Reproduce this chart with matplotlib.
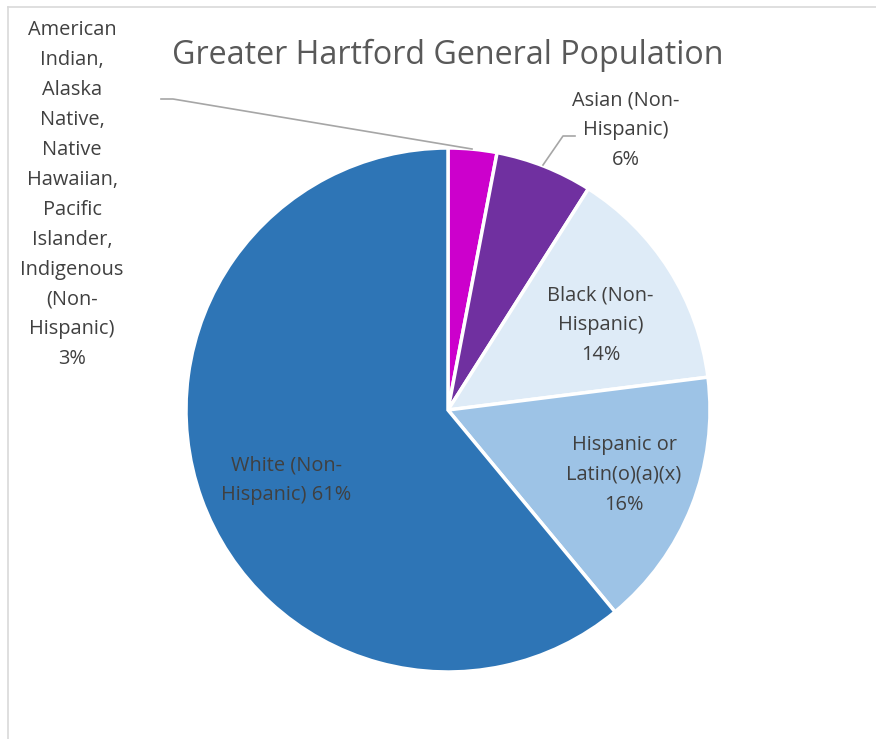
import matplotlib.pyplot as plt
from matplotlib.lines import Line2D

# chart data
categories = [
    "American\nIndian,\nAlaska\nNative,\nNative\nHawaiian,\nPacific\nIslander,\nIndigenous\n(Non-\nHispanic)",
    "Asian (Non-\nHispanic)",
    "Black (Non-\nHispanic)",
    "Hispanic or\nLatin(o)(a)(x)",
    "White (Non-\nHispanic)",
]
shares = [3, 6, 14, 16, 61]
colors = ["#CC00CC", "#7030A0", "#DEEBF7", "#9DC3E6", "#2E75B6"]

plt.rcParams["font.family"] = ["Open Sans", "DejaVu Sans"]

W, H = 876, 739
fig = plt.figure(figsize=(W / 100, H / 100), dpi=100)

# light frame around the chart area
fig.add_artist(Line2D([8 / W, 8 / W], [0, 1 - 7 / H], color="#D9D9D9", lw=1.2))
fig.add_artist(Line2D([8 / W, 1], [1 - 7 / H, 1 - 7 / H], color="#D9D9D9", lw=1.2))

cx, cy, r = 448, 410, 262
ax = fig.add_axes([(cx - r) / W, (H - cy - r) / H, 2 * r / W, 2 * r / H])
ax.pie(shares, colors=colors, startangle=90, counterclock=False, radius=1,
       wedgeprops=dict(edgecolor="white", linewidth=2.5))
ax.set_xlim(-1, 1)
ax.set_ylim(-1, 1)
ax.set_aspect("equal")
ax.axis("off")
ax.set_clip_on(False)

label_pos = [(-1.435, 0.821), (0.679, 1.069), (0.582, 0.324), (0.672, -0.248), (-0.618, -0.267)]
txt_kw = dict(ha="center", va="center", color="#404040", fontsize=14.4, linespacing=1.66)
for i, (name, val) in enumerate(zip(categories, shares)):
    x, y = label_pos[i]
    if name.startswith("White"):
        s = f"{name} {val}%"
    else:
        s = f"{name}\n{val}%"
    ax.text(x, y, s, clip_on=False, **txt_kw)

# leader lines
def px(xp, yp):
    return ((xp - cx) / r, (cy - yp) / r)

for pts in ([(161, 99), (173, 99), (472, 149)], [(543, 165), (563, 136), (575, 136)]):
    xy = [px(a, b) for a, b in pts]
    ax.plot([p[0] for p in xy], [p[1] for p in xy], color="#A6A6A6", lw=1.2, clip_on=False)

fig.text(448 / W, 1 - 55 / H, "Greater Hartford General Population", ha="center", va="center",
         fontsize=23.2, color="#595959")

fig.savefig("out.png", dpi=100)
